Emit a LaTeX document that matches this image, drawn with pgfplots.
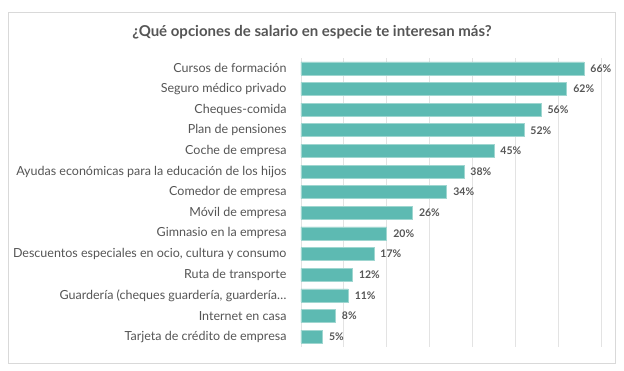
\documentclass[border=0pt]{standalone}
\usepackage{fontspec}
\setmainfont{Lato}
\usepackage{pgfplots}
\pgfplotsset{compat=1.18}
\definecolor{barcol}{HTML}{5DBAB2}
\definecolor{baredge}{HTML}{9FD6D0}
\definecolor{txt}{HTML}{555555}
\definecolor{gridcol}{HTML}{E3E3E3}
\definecolor{bordercol}{HTML}{D9D9D9}
\begin{document}
\begin{tikzpicture}[x=1pt,y=1pt]
\path[use as bounding box] (0,0) rectangle (624,370);
\draw[bordercol, line width=0.8pt] (8,7) rectangle (615,358);
\node[font=\fontsize{15}{17}\selectfont\bfseries, text=txt] at (312,338) {¿Qué opciones de salario en especie te interesan más?};
\begin{axis}[
  at={(301pt,23pt)}, anchor=south west,
  scale only axis, width=300pt, height=289pt,
  xmin=0, xmax=70, ymin=-0.5, ymax=13.5,
  y dir=reverse,
  xbar, bar width=13pt,
  xtick={0,10,...,70}, xticklabels={},
  xmajorgrids, grid style={gridcol, line width=0.8pt},
  axis line style={draw=none},
  major tick length=0,
  ytick={0,...,13},
  yticklabels={Cursos de formación, Seguro médico privado, Cheques-comida, Plan de pensiones, Coche de empresa, Ayudas económicas para la educación de los hijos, Comedor de empresa, Móvil de empresa, Gimnasio en la empresa, {Descuentos especiales en ocio, cultura y consumo}, Ruta de transporte, {Guardería (cheques guardería, guardería\ldots}, Internet en casa, Tarjeta de crédito de empresa},
  yticklabel style={font=\fontsize{12.5}{14}\selectfont, text=txt, anchor=east, xshift=-11pt},
  point meta=x,
  nodes near coords={\pgfmathprintnumber[assume math mode=true]{\pgfplotspointmeta}\%},
  nodes near coords style={font=\fontsize{10.5}{12}\selectfont\bfseries, text=txt, anchor=west, xshift=3pt},
  clip=false,
]
\addplot[fill=barcol, draw=baredge, line width=0.6pt] coordinates {
(66,0) (62,1) (56,2) (52,3) (45,4) (38,5) (34,6) (26,7) (20,8) (17,9) (12,10) (11,11) (8,12) (5,13)};
\end{axis}
\end{tikzpicture}
\end{document}
